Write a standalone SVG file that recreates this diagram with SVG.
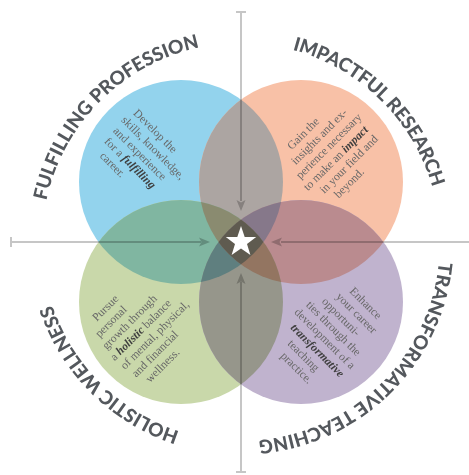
<svg xmlns="http://www.w3.org/2000/svg" width="469" height="475" viewBox="0 0 469 475">
<style>
.title{font-family:Lato,"Open Sans","Liberation Sans",sans-serif;font-weight:900;font-size:19px;fill:#54585d}
.body{font-family:"Liberation Serif",serif;font-size:11.6px;fill:#676767}
.em{font-style:italic;font-weight:700;fill:#3e3e3e}
.axis{stroke:#c6c6c6;stroke-width:2;fill:none}
.head{fill:#c6c6c6}
</style>
<defs>
<clipPath id="cB"><circle cx="181" cy="182" r="102"/></clipPath>
<clipPath id="cO"><circle cx="301" cy="182" r="102"/></clipPath>
<clipPath id="cG"><circle cx="181" cy="302" r="102"/></clipPath>
<clipPath id="cP"><circle cx="301" cy="302" r="102"/></clipPath>
<path id="arcF" d="M46.4,200.6 A199,199 0 0 1 234.1,43.1"/>
<path id="arcI" d="M292.5,49.8 A199,199 0 0 1 439.2,224.6"/>
<path id="arcT" d="M439.0,262.1 A199,199 0 0 1 223.6,440.2"/>
<path id="arcH" d="M179.5,431.3 A199,199 0 0 1 43.9,269.7"/>
</defs>
<rect width="469" height="475" fill="#ffffff"/>
<g id="fulfilling-profession">
<circle cx="181" cy="182" r="102" fill="#93d3ed"/>
</g>
<g id="impactful-research">
<circle cx="301" cy="182" r="102" fill="#f8c1a7"/>
</g>
<g id="holistic-wellness">
<circle cx="181" cy="302" r="102" fill="#c9d8aa"/>
</g>
<g id="transformative-teaching">
<circle cx="301" cy="302" r="102" fill="#c0b3ce"/>
</g>
<g id="overlaps">
<circle cx="301" cy="182" r="102" fill="#aca5a2" clip-path="url(#cB)"/>
<circle cx="181" cy="302" r="102" fill="#80b6a1" clip-path="url(#cB)"/>
<circle cx="301" cy="302" r="102" fill="#ba8b8f" clip-path="url(#cO)"/>
<circle cx="301" cy="302" r="102" fill="#96968b" clip-path="url(#cG)"/>
<g clip-path="url(#cB)"><circle cx="181" cy="302" r="102" fill="#8a8b70" clip-path="url(#cO)"/></g>
<g clip-path="url(#cB)"><circle cx="301" cy="302" r="102" fill="#86788a" clip-path="url(#cO)"/></g>
<g clip-path="url(#cB)"><circle cx="301" cy="302" r="102" fill="#5f7f7f" clip-path="url(#cG)"/></g>
<g clip-path="url(#cO)"><circle cx="301" cy="302" r="102" fill="#937561" clip-path="url(#cG)"/></g>
<g clip-path="url(#cB)"><g clip-path="url(#cO)"><circle cx="181" cy="302" r="102" fill="#5f5b50" clip-path="url(#cP)"/></g></g>
</g>
<g id="connectors" style="mix-blend-mode:multiply">
<path class="axis" d="M241,12 V201 M236,12 H246"/>
<path class="axis" d="M241,472 V282 M236,472 H246"/>
<path class="axis" d="M11,242 H201 M11,237 V247"/>
<path class="axis" d="M469,242 H281"/>
<path class="head" d="M241,211 L236.5,200 L241,202.5 L245.5,200 Z"/>
<path class="head" d="M241,273 L236.5,284 L241,281.5 L245.5,284 Z"/>
<path class="head" d="M210,242 L199,237.5 L201.5,242 L199,246.5 Z"/>
<path class="head" d="M271,242 L282,237.5 L279.5,242 L282,246.5 Z"/>
</g>
<g id="center-star">
<polygon points="241,226 244.7,236.9 256.2,237.1 247,244 250.4,255 241,248.4 231.6,255 235,244 225.8,237.1 237.3,236.9" fill="#ffffff"/>
</g>
<g id="titles">
<text class="title" textLength="229" lengthAdjust="spacing"><textPath href="#arcF">FULFILLING PROFESSION</textPath></text>
<text class="title" textLength="205" lengthAdjust="spacing"><textPath href="#arcI">IMPACTFUL RESEARCH</textPath></text>
<text class="title" textLength="275" lengthAdjust="spacing"><textPath href="#arcT">TRANSFORMATIVE TEACHING</textPath></text>
<text class="title" textLength="186" lengthAdjust="spacing"><textPath href="#arcH">HOLISTIC WELLNESS</textPath></text>
</g>
<g id="text-fulfilling" class="body" transform="rotate(45)">
<text x="174.4" y="-13.5">Develop the</text>
<text x="170.9" y="0">skills, knowledge,</text>
<text x="172.5" y="13.5">and experience</text>
<text x="173.9" y="27">for a <tspan class="em">fulfilling</tspan></text>
<text x="180.8" y="40.5">career.</text>
</g>
<g id="text-impactful" class="body" transform="rotate(-45)">
<text x="100.2" y="312.5">Gain the</text>
<text x="92.4" y="326">insights and ex-</text>
<text x="85.6" y="339.5">perience necessary</text>
<text x="82.5" y="353">to make an <tspan class="em">impact</tspan></text>
<text x="92" y="366.5">in your field and</text>
<text x="99" y="380">beyond.</text>
</g>
<g id="text-holistic" class="body" transform="rotate(-45)">
<text x="-159.1" y="296">Pursue</text>
<text x="-168.5" y="309.5">personal</text>
<text x="-172" y="323">growth through</text>
<text x="-174.4" y="336.5">a <tspan class="em">holistic</tspan> balance</text>
<text x="-173.2" y="350">of mental, physical,</text>
<text x="-170.8" y="363.5">and financial</text>
<text x="-165" y="377">wellness.</text>
</g>
<g id="text-transformative" class="body" transform="rotate(45)">
<text x="453" y="-40.5">Enhance</text>
<text x="447.3" y="-27">your career</text>
<text x="440.7" y="-13.5">opportuni-</text>
<text x="432" y="0">ties through the</text>
<text x="428.9" y="13.5">development of a</text>
<text x="437.2" y="27"><tspan class="em">transformative</tspan></text>
<text x="446.5" y="40.5">teaching</text>
<text x="450" y="54">practice.</text>
</g>
</svg>
